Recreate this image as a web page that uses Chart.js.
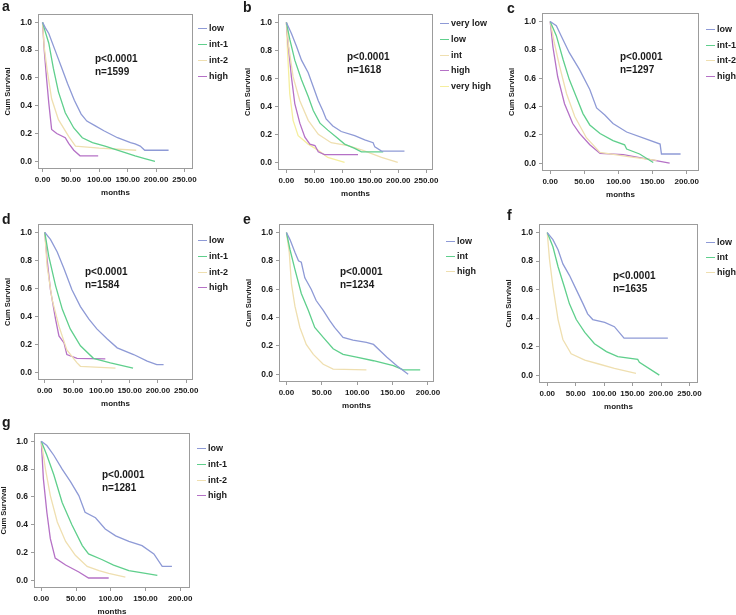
<!DOCTYPE html>
<html>
<head>
<meta charset="utf-8">
<script src="https://cdn.jsdelivr.net/npm/chart.js@4.4.0/dist/chart.umd.min.js"></script>
<style>
  body { margin: 0; background: #fff; }
  #fig { position: relative; width: 736px; height: 615px; overflow: hidden; background: #fff;
         font-family: "Liberation Sans", Arial, sans-serif; color: #1a1a1a; }
  #fig canvas { position: absolute; }
  .lbl { position: absolute; font-weight: bold; line-height: 1; white-space: nowrap; }
  .key { position: absolute; height: 1px; width: 9px; }
</style>
</head>
<body>
<div id="fig"></div>
<script>
// --- data ---
var xTicks250 = [0, 50, 100, 150, 200, 250];
var xTicks200 = [0, 50, 100, 150, 200];
var yTicks = [0, 0.2, 0.4, 0.6, 0.8, 1.0];

var groups4 = ['low', 'int-1', 'int-2', 'high'];
var groups3 = ['low', 'int', 'high'];
var groups5 = ['very low', 'low', 'int', 'high', 'very high'];

// panel a  [months, cum survival]
var aLow  = [[0,1],[5,0.96],[11,0.92],[22,0.80],[34,0.67],[44,0.56],[56,0.44],[68,0.34],[78,0.29],[93,0.255],[108,0.22],[132,0.17],[155,0.135],[163,0.125],[172,0.11],[180,0.08],[222,0.08]];
var aInt1 = [[0,1],[5,0.93],[11,0.85],[19,0.67],[28,0.50],[40,0.35],[55,0.24],[70,0.17],[88,0.135],[110,0.11],[125,0.09],[140,0.07],[163,0.04],[180,0.02],[198,0.0]];
var aInt2 = [[0,1],[3,0.82],[8,0.66],[16,0.45],[28,0.30],[46,0.18],[58,0.11],[100,0.095],[165,0.08]];
var aHigh = [[0,1],[3,0.80],[7,0.60],[11,0.42],[16,0.23],[25,0.20],[40,0.17],[46,0.13],[55,0.08],[66,0.04],[98,0.04]];

// panel b
var bVeryLow  = [[0,1],[9,0.92],[18,0.83],[27,0.73],[39,0.64],[48,0.54],[57,0.44],[65,0.37],[71,0.31],[83,0.26],[98,0.22],[122,0.19],[140,0.16],[155,0.14],[158,0.11],[170,0.08],[211,0.08]];
var bLow      = [[0,1],[6,0.88],[15,0.73],[27,0.59],[39,0.47],[48,0.37],[60,0.28],[74,0.23],[89,0.18],[104,0.13],[122,0.10],[134,0.075],[173,0.075]];
var bInt      = [[0,1],[4,0.83],[12,0.61],[24,0.44],[39,0.30],[57,0.20],[80,0.14],[110,0.12],[137,0.085],[170,0.035],[199,0.0]];
var bHigh     = [[0,1],[3,0.85],[9,0.61],[15,0.42],[24,0.28],[33,0.18],[42,0.13],[51,0.12],[57,0.075],[68,0.055],[128,0.055]];
var bVeryHigh = [[0,1],[2,0.80],[6,0.49],[12,0.30],[21,0.19],[39,0.13],[57,0.085],[74,0.035],[104,0.0]];

// panel c
var cLow  = [[0,1],[9,0.97],[16,0.90],[28,0.78],[43,0.66],[58,0.52],[68,0.39],[80,0.34],[92,0.28],[112,0.22],[141,0.17],[161,0.135],[163,0.065],[191,0.065]];
var cInt1 = [[0,1],[9,0.90],[19,0.73],[28,0.59],[38,0.47],[48,0.35],[58,0.27],[73,0.21],[92,0.16],[109,0.13],[112,0.10],[131,0.065],[151,0.005]];
var cInt2 = [[0,1],[6,0.85],[14,0.68],[24,0.49],[36,0.33],[53,0.18],[73,0.076],[117,0.045],[156,0.02]];
var cHigh = [[0,1],[4,0.82],[11,0.61],[21,0.42],[33,0.28],[43,0.21],[58,0.13],[73,0.07],[107,0.06],[141,0.03],[175,0.0]];

// panel d
var dLow  = [[0,1],[10,0.95],[22,0.86],[34,0.74],[48,0.59],[63,0.47],[78,0.38],[92,0.31],[110,0.24],[128,0.175],[157,0.127],[181,0.08],[198,0.055],[210,0.055]];
var dInt1 = [[0,1],[7,0.83],[19,0.62],[31,0.45],[45,0.31],[63,0.19],[86,0.10],[116,0.067],[156,0.03]];
var dInt2 = [[0,1],[4,0.76],[13,0.52],[25,0.33],[39,0.16],[57,0.067],[63,0.043],[125,0.03]];
var dHigh = [[0,1],[4,0.81],[10,0.59],[19,0.38],[25,0.26],[34,0.21],[39,0.127],[57,0.10],[107,0.096]];

// panel e
var eLow  = [[0,1],[5,0.95],[12,0.86],[17,0.80],[21,0.79],[26,0.68],[35,0.60],[42,0.52],[52,0.45],[61,0.38],[68,0.33],[80,0.26],[94,0.24],[113,0.225],[123,0.21],[142,0.12],[156,0.06],[172,0.0]];
var eInt  = [[0,1],[5,0.88],[12,0.74],[21,0.57],[31,0.45],[40,0.33],[52,0.26],[66,0.18],[80,0.14],[99,0.12],[123,0.095],[151,0.06],[165,0.03],[189,0.03]];
var eHigh = [[0,1],[4,0.86],[7,0.64],[12,0.48],[19,0.33],[28,0.21],[38,0.14],[52,0.07],[66,0.036],[113,0.03]];

// panel f
var fLow  = [[0,1],[10,0.95],[19,0.88],[27.5,0.78],[39,0.70],[51,0.60],[63,0.50],[71,0.43],[80,0.39],[101,0.37],[118,0.34],[135,0.26],[212,0.26]];
var fInt  = [[0,1],[10,0.90],[19,0.76],[30,0.62],[39,0.50],[51,0.39],[66,0.30],[83,0.22],[104,0.165],[124,0.13],[159,0.11],[162,0.09],[197,0.0]];
var fHigh = [[0,1],[4,0.81],[10,0.62],[19,0.39],[27.5,0.25],[42,0.15],[66,0.105],[89,0.08],[118,0.047],[156,0.012]];

// panel g
var gLow  = [[0,1],[8,0.97],[18,0.90],[30,0.80],[42,0.71],[54,0.61],[63,0.49],[78,0.45],[92,0.37],[107,0.32],[126,0.28],[145,0.25],[162,0.19],[174,0.10],[188,0.10]];
var gInt1 = [[0,1],[8,0.90],[18,0.76],[30,0.56],[44,0.40],[59,0.25],[68,0.19],[87,0.15],[104,0.11],[126,0.07],[150,0.05],[167,0.036]];
var gInt2 = [[0,1],[6,0.80],[13,0.61],[23,0.42],[35,0.28],[49,0.18],[66,0.10],[83,0.07],[97,0.05],[121,0.024]];
var gHigh = [[0,1],[3,0.73],[8,0.49],[13,0.30],[20,0.16],[35,0.11],[54,0.06],[68,0.017],[97,0.017]];

var BLUE = '#8e9ad6', GREEN = '#5fcf8c', BEIGE = '#efdfb0', PURPLE = '#b571c6', YELLOW = '#f5ee9e';

// box = plot frame in page px, x = axis range, leg = legend text x / first y / step, note = p-text x / y
var panels = [
  { id: 'a', box: [38, 14, 193, 169], x: [-8, 265], xt: xTicks250, letter: [2, 11],
    groups: groups4, series: [aLow, aInt1, aInt2, aHigh], colors: [BLUE, GREEN, BEIGE, PURPLE],
    leg: [209, 28, 16], note: [95, 59, 'n=1599'] },
  { id: 'b', box: [278, 14, 433, 170], x: [-15, 262], xt: xTicks250, letter: [243, 12],
    groups: groups5, series: [bVeryLow, bLow, bInt, bHigh, bVeryHigh], colors: [BLUE, GREEN, BEIGE, PURPLE, YELLOW],
    leg: [451, 23, 15.8], note: [347, 57, 'n=1618'] },
  { id: 'c', box: [542, 13, 699, 171], x: [-12, 218], xt: xTicks200, letter: [507, 13],
    groups: groups4, series: [cLow, cInt1, cInt2, cHigh], colors: [BLUE, GREEN, BEIGE, PURPLE],
    leg: [717, 29, 15.6], note: [620, 57, 'n=1297'] },
  { id: 'd', box: [38, 224, 193, 380], x: [-12, 262], xt: xTicks250, letter: [2, 224],
    groups: groups4, series: [dLow, dInt1, dInt2, dHigh], colors: [BLUE, GREEN, BEIGE, PURPLE],
    leg: [209, 240, 15.8], note: [85, 272, 'n=1584'] },
  { id: 'e', box: [279, 224, 434, 382], x: [-10.5, 208.5], xt: xTicks200, letter: [243, 224],
    groups: groups3, series: [eLow, eInt, eHigh], colors: [BLUE, GREEN, BEIGE],
    leg: [457, 241, 15], note: [340, 272, 'n=1234'] },
  { id: 'f', box: [539, 224, 698, 383], x: [-14.5, 265], xt: xTicks250, letter: [507, 220],
    groups: groups3, series: [fLow, fInt, fHigh], colors: [BLUE, GREEN, BEIGE],
    leg: [717, 242, 15], note: [613, 276, 'n=1635'] },
  { id: 'g', box: [34, 433, 190, 588], x: [-10.5, 214], xt: xTicks200, letter: [2, 427],
    groups: groups4, series: [gLow, gInt1, gInt2, gHigh], colors: [BLUE, GREEN, BEIGE, PURPLE],
    leg: [208, 448, 15.8], note: [102, 475, 'n=1281'] }
];

var FONT = '"Liberation Sans", Arial, sans-serif';
var AXIS_W = 38, AXIS_H = 32, PAD_T = 4, PAD_R = 14;

var framePlugin = {
  id: 'frame',
  afterDatasetsDraw: function(chart) {
    var a = chart.chartArea, ctx = chart.ctx;
    ctx.save();
    ctx.strokeStyle = '#9c9c9c';
    ctx.lineWidth = 1;
    ctx.strokeRect(Math.round(a.left) + 0.5, Math.round(a.top) + 0.5,
                   Math.round(a.right - a.left) - 1, Math.round(a.bottom - a.top) - 1);
    ctx.restore();
  }
};

var fig = document.getElementById('fig');

function addText(txt, x, y, size, center) {
  var d = document.createElement('div');
  d.className = 'lbl';
  d.textContent = txt;
  d.style.fontSize = size + 'px';
  d.style.left = x + 'px';
  // y is a baseline unless center is set
  d.style.top = (center ? y - size * 0.5 : y - size * 0.85) + 'px';
  fig.appendChild(d);
}

panels.forEach(function(p) {
  var L = p.box[0], T = p.box[1], R = p.box[2], B = p.box[3];
  var cv = document.createElement('canvas');
  var w = (R - L) + AXIS_W + PAD_R, h = (B - T) + PAD_T + AXIS_H;
  cv.width = w; cv.height = h;
  cv.style.left = (L - AXIS_W) + 'px';
  cv.style.top = (T - PAD_T) + 'px';
  fig.appendChild(cv);

  var datasets = p.series.map(function(s, i) {
    return {
      label: p.groups[i],
      data: s.map(function(pt) { return { x: pt[0], y: pt[1] }; }),
      borderColor: p.colors[i], borderWidth: 1.3,
      pointRadius: 0, tension: 0, fill: false
    };
  });

  new Chart(cv, {
    type: 'line',
    data: { datasets: datasets },
    options: {
      responsive: false, animation: false, events: [],
      layout: { padding: { top: PAD_T, right: PAD_R, left: 0, bottom: 0 } },
      plugins: { legend: { display: false }, tooltip: { enabled: false } },
      scales: {
        x: {
          type: 'linear', min: p.x[0], max: p.x[1],
          afterBuildTicks: function(s) { s.ticks = p.xt.map(function(v) { return { value: v }; }); },
          afterFit: function(s) { s.height = AXIS_H; s.paddingLeft = 0; s.paddingRight = 0; },
          grid: { drawOnChartArea: false, drawTicks: true, tickLength: 3, color: '#9c9c9c' },
          border: { display: false },
          ticks: { padding: 3, maxRotation: 0, autoSkip: false, color: '#1a1a1a',
                   font: { family: FONT, size: 8, weight: 'bold' },
                   callback: function(v) { return v.toFixed(2); } },
          title: { display: true, text: 'months', color: '#1a1a1a', padding: { top: 2, bottom: 3 },
                   font: { family: FONT, size: 8, weight: 'bold' } }
        },
        y: {
          min: -0.055, max: 1.06,
          afterBuildTicks: function(s) { s.ticks = yTicks.map(function(v) { return { value: v }; }); },
          afterFit: function(s) { s.width = AXIS_W; s.paddingTop = 0; s.paddingBottom = 0; },
          grid: { drawOnChartArea: false, drawTicks: true, tickLength: 3, color: '#9c9c9c' },
          border: { display: false },
          ticks: { padding: 3, color: '#1a1a1a', font: { family: FONT, size: 8.5, weight: 'bold' },
                   callback: function(v) { return v.toFixed(1); } },
          title: { display: true, text: 'Cum Survival', color: '#1a1a1a', padding: { top: 3, bottom: 0 },
                   font: { family: FONT, size: 7.5, weight: 'bold' } }
        }
      }
    },
    plugins: [framePlugin]
  });

  // panel letter, p value, legend
  addText(p.id, p.letter[0], p.letter[1], 14, false);
  addText('p<0.0001', p.note[0], p.note[1], 10, true);
  addText(p.note[2], p.note[0], p.note[1] + 12.5, 10, true);
  p.groups.forEach(function(g, i) {
    var y = Math.round(p.leg[1] + i * p.leg[2]);
    var k = document.createElement('div');
    k.className = 'key';
    k.style.background = p.colors[i];
    k.style.left = (p.leg[0] - 11) + 'px';
    k.style.top = y + 'px';
    fig.appendChild(k);
    addText(g, p.leg[0], y + 0.5, 9, true);
  });
});
</script>
</body>
</html>
